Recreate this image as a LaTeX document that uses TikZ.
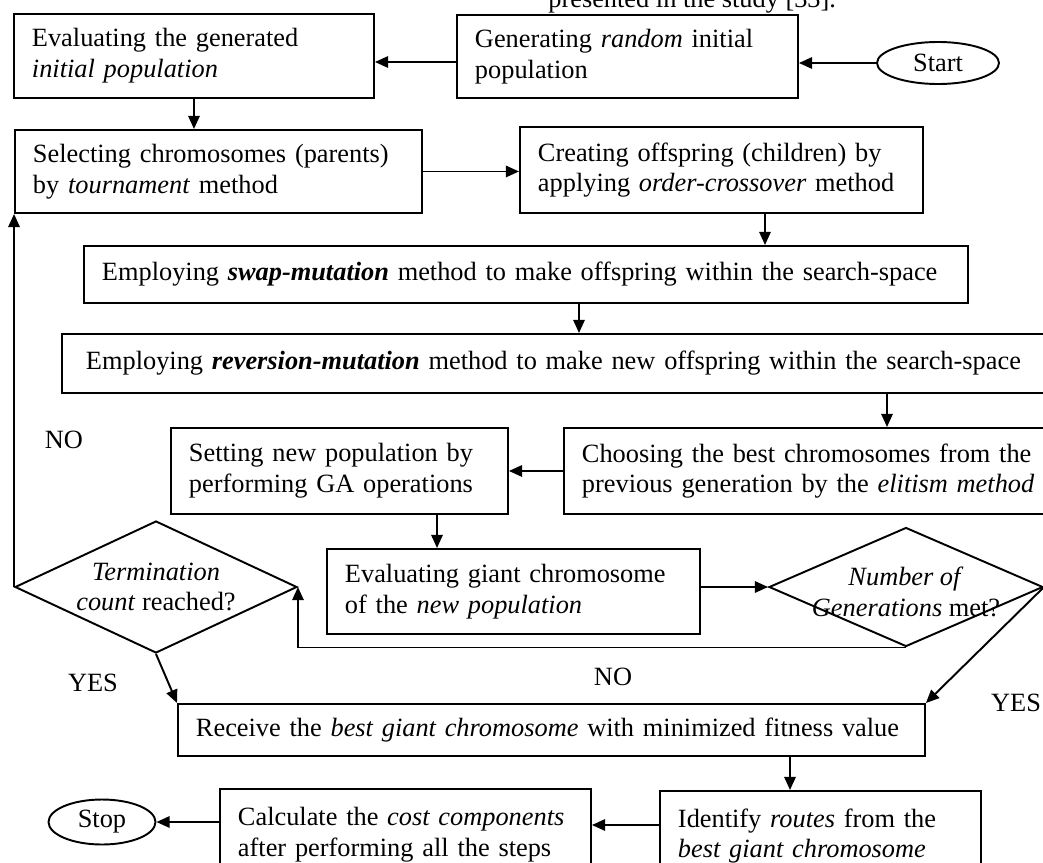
\documentclass[tikz,border=0pt]{standalone}
\usepackage{fontspec}
\setmainfont{Liberation Serif}
\usetikzlibrary{arrows.meta,shapes.geometric}
\newlength\px
\setlength\px{0.02cm}
\tikzset{
  every node/.style={font=\fontsize{15}{17.5}\selectfont},
  flowbox/.style={draw, line width=1.1pt, anchor=north west, align=left,
    inner xsep=18\px, inner ysep=0pt},
  decision/.style={draw, line width=1.1pt, diamond, inner sep=0pt},
  terminal/.style={draw, line width=1.1pt, ellipse, inner sep=0pt},
  flow/.style={line width=1.1pt, -{Triangle[length=7.5pt,width=6.5pt]}},
}

\begin{document}
\begin{tikzpicture}[x=\px, y=-\px] % GA flow chart, pixel grid
    \useasboundingbox (0,0) rectangle (1043,862);

    % rest of the caption above the chart
    \node[anchor=base west, inner sep=0pt] (cap) at (548,8) {presented in the study [33].};

    % process boxes (placed by their top left corner)
    \node[flowbox, text width=324\px, minimum height=84\px] (eval1) at (13,13)
        {Evaluating the generated\\\textit{initial population}};
    \node[flowbox, text width=305\px, minimum height=83\px] (gen) at (456,14)
        {Generating \textit{random} initial\\population};
    \node[flowbox, text width=371\px, minimum height=83\px] (select) at (14,129)
        {Selecting chromosomes (parents)\\by \textit{tournament} method};
    \node[flowbox, text width=367\px, minimum height=86\px] (cross) at (519,126)
        {Creating offspring (children) by\\applying \textit{order-crossover} method};
    \node[flowbox, text width=848\px, minimum height=57\px] (swap) at (83,245)
        {Employing \textbf{\textit{swap-mutation}} method to make offspring within the search-space};
    \node[flowbox, inner xsep=24\px, text width=991\px, minimum height=59\px] (rev) at (61,333)
        {Employing \textbf{\textit{reversion-mutation}} method to make new offspring within the search-space};
    \node[flowbox, text width=301\px, minimum height=86\px] (setpop) at (170,427)
        {Setting new population by\\performing GA operations};
    \node[flowbox, text width=501\px, minimum height=86\px] (elite) at (563,427)
        {Choosing the best chromosomes from the\\previous generation by the \textit{elitism method}};
    \node[flowbox, text width=337\px, minimum height=85\px] (evalgiant) at (326,548)
        {Evaluating giant chromosome\\of the \textit{new population}};
    \node[flowbox, text width=711\px, minimum height=52\px] (best) at (177,703)
        {Receive the \textit{best giant chromosome} with minimized fitness value};
    \node[flowbox, text width=335\px, minimum height=92\px] (cost) at (219,788)
        {Calculate the \textit{cost components}\\after performing all the steps};
    \node[flowbox, text width=285\px, minimum height=90\px] (routes) at (659,790)
        {Identify \textit{routes} from the\\\textit{best giant chromosome}};

    % decisions
    \node[decision, minimum width=282\px, minimum height=132\px,
        label={[align=center]center:\textit{Termination}\\\textit{count} reached?}] (term) at (156,587) {};
    \node[decision, minimum width=274\px, minimum height=119\px,
        label={[align=center, yshift=-5\px]center:\textit{Number of}\\\textit{Generations} met?}] (ngen) at (906,587) {};

    % start and stop
    \node[terminal, minimum width=122\px, minimum height=42\px] (start) at (938,63) {Start};
    \node[terminal, minimum width=107\px, minimum height=45\px] (stop) at (102,822) {Stop};

    % where the off-centre arrows run
    \coordinate (top) at (0,62);
    \coordinate (d2e) at (765,0);
    \coordinate (e2f) at (579,0);
    \coordinate (f2h) at (887,0);
    \coordinate (g2i) at (437,0);
    \coordinate (j2l) at (790,0);
    \coordinate (l2k) at (0,825);

    % draw arrows
    \draw[flow] (start.west) -- (start.west -| gen.east);
    \draw[flow] (gen.west |- top) -- (eval1.east |- top);
    \draw[flow] (eval1.south) -- (eval1.south |- select.north);
    \draw[flow] (select.east) -- (select.east -| cross.west);
    \draw[flow] (cross.south -| d2e) -- (swap.north -| d2e);
    \draw[flow] (swap.south -| e2f) -- (rev.north -| e2f);
    \draw[flow] (rev.south -| f2h) -- (elite.north -| f2h);
    \draw[flow] (elite.west) -- (setpop.east);
    \draw[flow] (setpop.south -| g2i) -- (evalgiant.north -| g2i);
    \draw[flow] (evalgiant.east |- ngen.west) -- (ngen.west);
    \draw[flow] (ngen.south) -- (ngen.south -| term.east) -- (term.east);
    \draw[flow] (term.west) -- (term.west |- select.south);
    \draw[flow] (term.south) -- (best.north west);
    \draw[flow] (ngen.east) -- (best.north east);
    \draw[flow] (best.south -| j2l) -- (routes.north -| j2l);
    \draw[flow] (routes.west |- l2k) -- (cost.east |- l2k);
    \draw[flow] (cost.west |- stop.east) -- (stop.east);

    % answers
    \node (no1) at (64,440) {NO};
    \node (yes1) at (93,683) {YES};
    \node (no2) at (613,677) {NO};
    \node (yes2) at (1016,703) {YES};
\end{tikzpicture}
\end{document}
